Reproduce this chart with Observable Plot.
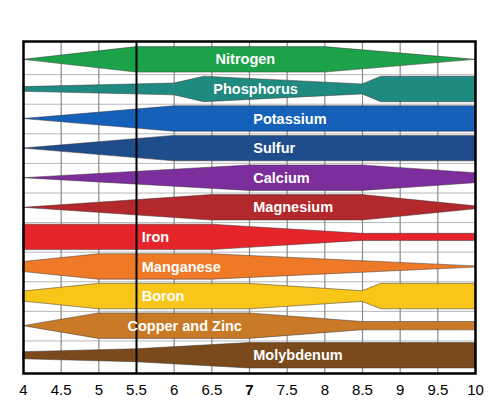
<!DOCTYPE html>
<html>
<head>
<meta charset="utf-8">
<script src="https://cdn.jsdelivr.net/npm/d3@7"></script>
<script src="https://cdn.jsdelivr.net/npm/@observablehq/plot@0.6"></script>
<style>
  body { margin: 0; background: #fff; }
</style>
</head>
<body>
<div id="chart"></div>
<script>
// nutrient rows, top to bottom
const nutrients = ["Nitrogen", "Phosphorus", "Potassium", "Sulfur", "Calcium", "Magnesium",
    "Iron", "Manganese", "Boron", "Copper and Zinc", "Molybdenum"];
const colors = ["#1ca34a", "#1f8a80", "#1560b8", "#1f4c8a", "#7c2e9c", "#b3282b",
    "#e5252b", "#ee7a28", "#f7c619", "#c97a27", "#7a4a1d"];

// availability profile: [pH, half band width in row units]
const nitrogen = [[4, 0], [5.5, 0.43], [8, 0.43], [10, 0]];
const phosphorus = [[4, 0.08], [6, 0.2], [6.4, 0.43], [8.5, 0.17], [8.75, 0.43], [10, 0.43]];
const potassium = [[4, 0], [6, 0.43], [10, 0.43]];
const sulfur = [[4, 0], [6, 0.43], [10, 0.43]];
const calcium = [[4, 0], [7, 0.43], [8.5, 0.43], [10, 0.17]];
const magnesium = [[4, 0], [6.5, 0.43], [8.5, 0.43], [10, 0.05]];
const iron = [[4, 0.43], [6.5, 0.43], [8.5, 0.12], [10, 0.12]];
const manganese = [[4, 0.17], [5, 0.43], [6.5, 0.43], [10, 0.02]];
const boron = [[4, 0.17], [5, 0.43], [7, 0.43], [8.5, 0.18], [8.75, 0.43], [10, 0.43]];
const copperZinc = [[4, 0], [5, 0.43], [7, 0.43], [8.5, 0.14], [10, 0.14]];
const molybdenum = [[4, 0.12], [5.5, 0.22], [7, 0.43], [10, 0.43]];

// pH where each label starts
const labelAt = [6.55, 6.52, 7.05, 7.05, 7.05, 7.05, 5.57, 5.57, 5.57, 5.38, 7.05];

const phTicks = [4, 4.5, 5, 5.5, 6, 6.5, 7, 7.5, 8, 8.5, 9, 9.5, 10];

const profiles = [nitrogen, phosphorus, potassium, sulfur, calcium, magnesium,
    iron, manganese, boron, copperZinc, molybdenum];

const bands = profiles.flatMap((p, i) => p.map(([ph, w]) => ({
    nutrient: nutrients[i], ph, y1: i - w, y2: i + w
})));
const labels = nutrients.map((n, i) => ({ nutrient: n, row: i, ph: labelAt[i] }));

const chart = Plot.plot({
    width: 493,
    height: 406,
    marginLeft: 23,
    marginRight: 18,
    marginTop: 41,
    marginBottom: 33,
    style: { fontFamily: "Liberation Sans, Arial, sans-serif", background: "#fff" },
    x: { domain: [4, 10], axis: null, label: null },
    y: { domain: [-0.62, 10.6], reverse: true, axis: null, label: null },
    color: { domain: nutrients, range: colors },
    marks: [
        Plot.ruleY(d3.range(0.5, 10, 1), { stroke: "#b8b8b8", strokeWidth: 1 }),
        Plot.ruleX(phTicks.filter((d) => d > 4 && d < 10 && d !== 5.5), { stroke: "#8a8a8a", strokeWidth: 1.2 }),
        Plot.areaY(bands, {
            x: "ph",
            y1: "y1",
            y2: "y2",
            z: "nutrient",
            fill: "nutrient",
            stroke: "#3a3030",
            strokeWidth: 0.7,
            strokeOpacity: 0.7
        }),
        Plot.ruleX([5.5], { stroke: "#000", strokeWidth: 2 }),
        Plot.text(labels, {
            x: "ph",
            y: "row",
            text: "nutrient",
            textAnchor: "start",
            fill: "#fff",
            fontWeight: "bold",
            fontSize: 14.5
        }),
        Plot.frame({ stroke: "#000", strokeWidth: 2.5 }),
        Plot.axisX(phTicks.filter((d) => d !== 7), {
            tickSize: 0,
            tickPadding: 11,
            fontSize: 15,
            fill: "#000",
            label: null,
            tickFormat: (d) => String(d)
        }),
        Plot.axisX([7], {
            tickSize: 0,
            tickPadding: 11,
            fontSize: 15,
            fontWeight: "bold",
            fill: "#000",
            label: null,
            tickFormat: (d) => String(d)
        })
    ]
});

document.getElementById("chart").appendChild(chart);
</script>
</body>
</html>
